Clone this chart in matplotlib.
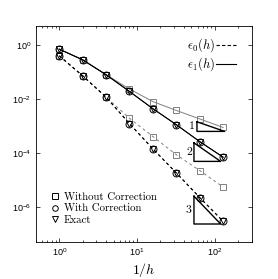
import matplotlib
matplotlib.use('Agg')
import matplotlib.pyplot as plt
from matplotlib.lines import Line2D

plt.rcParams['font.family'] = ['Liberation Sans', 'DejaVu Sans']
plt.rcParams['mathtext.fontset'] = 'cm'

# 1/h values
inv_h = [1, 2, 4, 8, 16, 32, 64, 128]

# eps_1(h): solid lines
e1_without = [0.69, 0.278, 0.078, 0.023, 0.0079, 0.0037, 0.0018, 0.00087]
e1_with = [0.69, 0.278, 0.078, 0.0187, 0.0043, 0.0011, 0.00026, 0.000069]
e1_exact = [0.69, 0.278, 0.078, 0.0187, 0.0043, 0.0011, 0.00026, 0.000069]

# eps_0(h): dashed lines
e0_without = [0.39, 0.071, 0.0115, 0.0019, 0.0004, 0.000085, 0.000022, 0.0000054]
e0_with = [0.39, 0.071, 0.0115, 0.0012, 0.00014, 0.000018, 0.0000022, 0.00000029]
e0_exact = [0.39, 0.071, 0.0115, 0.0012, 0.00014, 0.000018, 0.0000022, 0.00000029]

# slope triangles: (x left, x right, y bottom, slope)
tri_x0 = [59, 54, 54]
tri_x1 = [134, 119, 119]
tri_y0 = [6.2e-4, 4.8e-5, 2.3e-7]
tri_slope = [1, 2, 3]

gray = '0.5'
fig = plt.figure(figsize=(2.78, 2.79), dpi=100)
ax = fig.add_axes([0.129, 0.133, 0.777, 0.774])

ms = 5
ax.plot(inv_h, e1_without, '-', color=gray, lw=0.7, marker='s', ms=ms,
        mfc='none', mec=gray, mew=0.7)
ax.plot(inv_h, e1_with, '-', color='k', lw=0.7, marker='o', ms=ms,
        mfc='none', mec='k', mew=0.7)
ax.plot(inv_h, e1_exact, '-', color='k', lw=0.7, marker='v', ms=ms,
        mfc='none', mec='k', mew=0.7)
ax.plot(inv_h, e0_without, '--', color=gray, lw=0.7, dashes=(3, 3), marker='s',
        ms=ms, mfc='none', mec=gray, mew=0.7)
ax.plot(inv_h, e0_with, '--', color='k', lw=0.7, dashes=(3, 3), marker='o',
        ms=ms, mfc='none', mec='k', mew=0.7)
ax.plot(inv_h, e0_exact, '--', color='k', lw=0.7, dashes=(3, 3), marker='v',
        ms=ms, mfc='none', mec='k', mew=0.7)

# slope triangles
for x0, x1, y0, s in zip(tri_x0, tri_x1, tri_y0, tri_slope):
    y1 = y0 * (x1 / x0) ** s
    ax.plot([x0, x0, x1, x0], [y1, y0, y0, y1], color='k', lw=1.0)
    ym = (y0 * y1) ** 0.5
    ax.text(x0 * 0.94, ym, str(s), ha='right', va='center',
            fontsize=8.5, family='cmr10')

ax.set_xscale('log')
ax.set_yscale('log')
ax.set_xlim(0.5, 300)
ax.set_ylim(5e-8, 5)
ax.set_yticks([1e-6, 1e-4, 1e-2, 1e0])
ax.tick_params(which='both', direction='in', top=True, right=True,
               labelsize=6.5, width=0.5)
ax.tick_params(which='major', length=3)
ax.tick_params(which='minor', length=1.5)
ax.yaxis.set_minor_locator(matplotlib.ticker.NullLocator())
for sp in ax.spines.values():
    sp.set_linewidth(0.6)

ax.set_xlabel('$1/h$', fontsize=10, labelpad=2)

# line style legend
h_style = [Line2D([], [], color='k', ls='--', dashes=(3, 2), lw=0.8),
           Line2D([], [], color='k', ls='-', lw=0.8)]
leg1 = ax.legend(h_style, [r'$\epsilon_0(h)$', r'$\epsilon_1(h)$'],
                 loc='upper right', bbox_to_anchor=(0.96, 0.985), frameon=False,
                 markerfirst=False, handlelength=1.6, handletextpad=0.1,
                 labelspacing=0.1, fontsize=9, borderaxespad=0.2)
ax.add_artist(leg1)

# marker legend
h_mark = [Line2D([], [], ls='none', marker='s', ms=4, mfc='none', mec='k', mew=0.7),
          Line2D([], [], ls='none', marker='o', ms=4, mfc='none', mec='k', mew=0.7),
          Line2D([], [], ls='none', marker='v', ms=4, mfc='none', mec='k', mew=0.7)]
ax.legend(h_mark, ['Without Correction', 'With Correction', 'Exact'],
          loc='lower left', bbox_to_anchor=(0.04, 0.05), frameon=False,
          handlelength=0.8, handletextpad=0.4, labelspacing=0.15,
          prop={'family': 'cmr10', 'size': 7.8}, borderaxespad=0.2)

fig.savefig('out.png', dpi=100)
